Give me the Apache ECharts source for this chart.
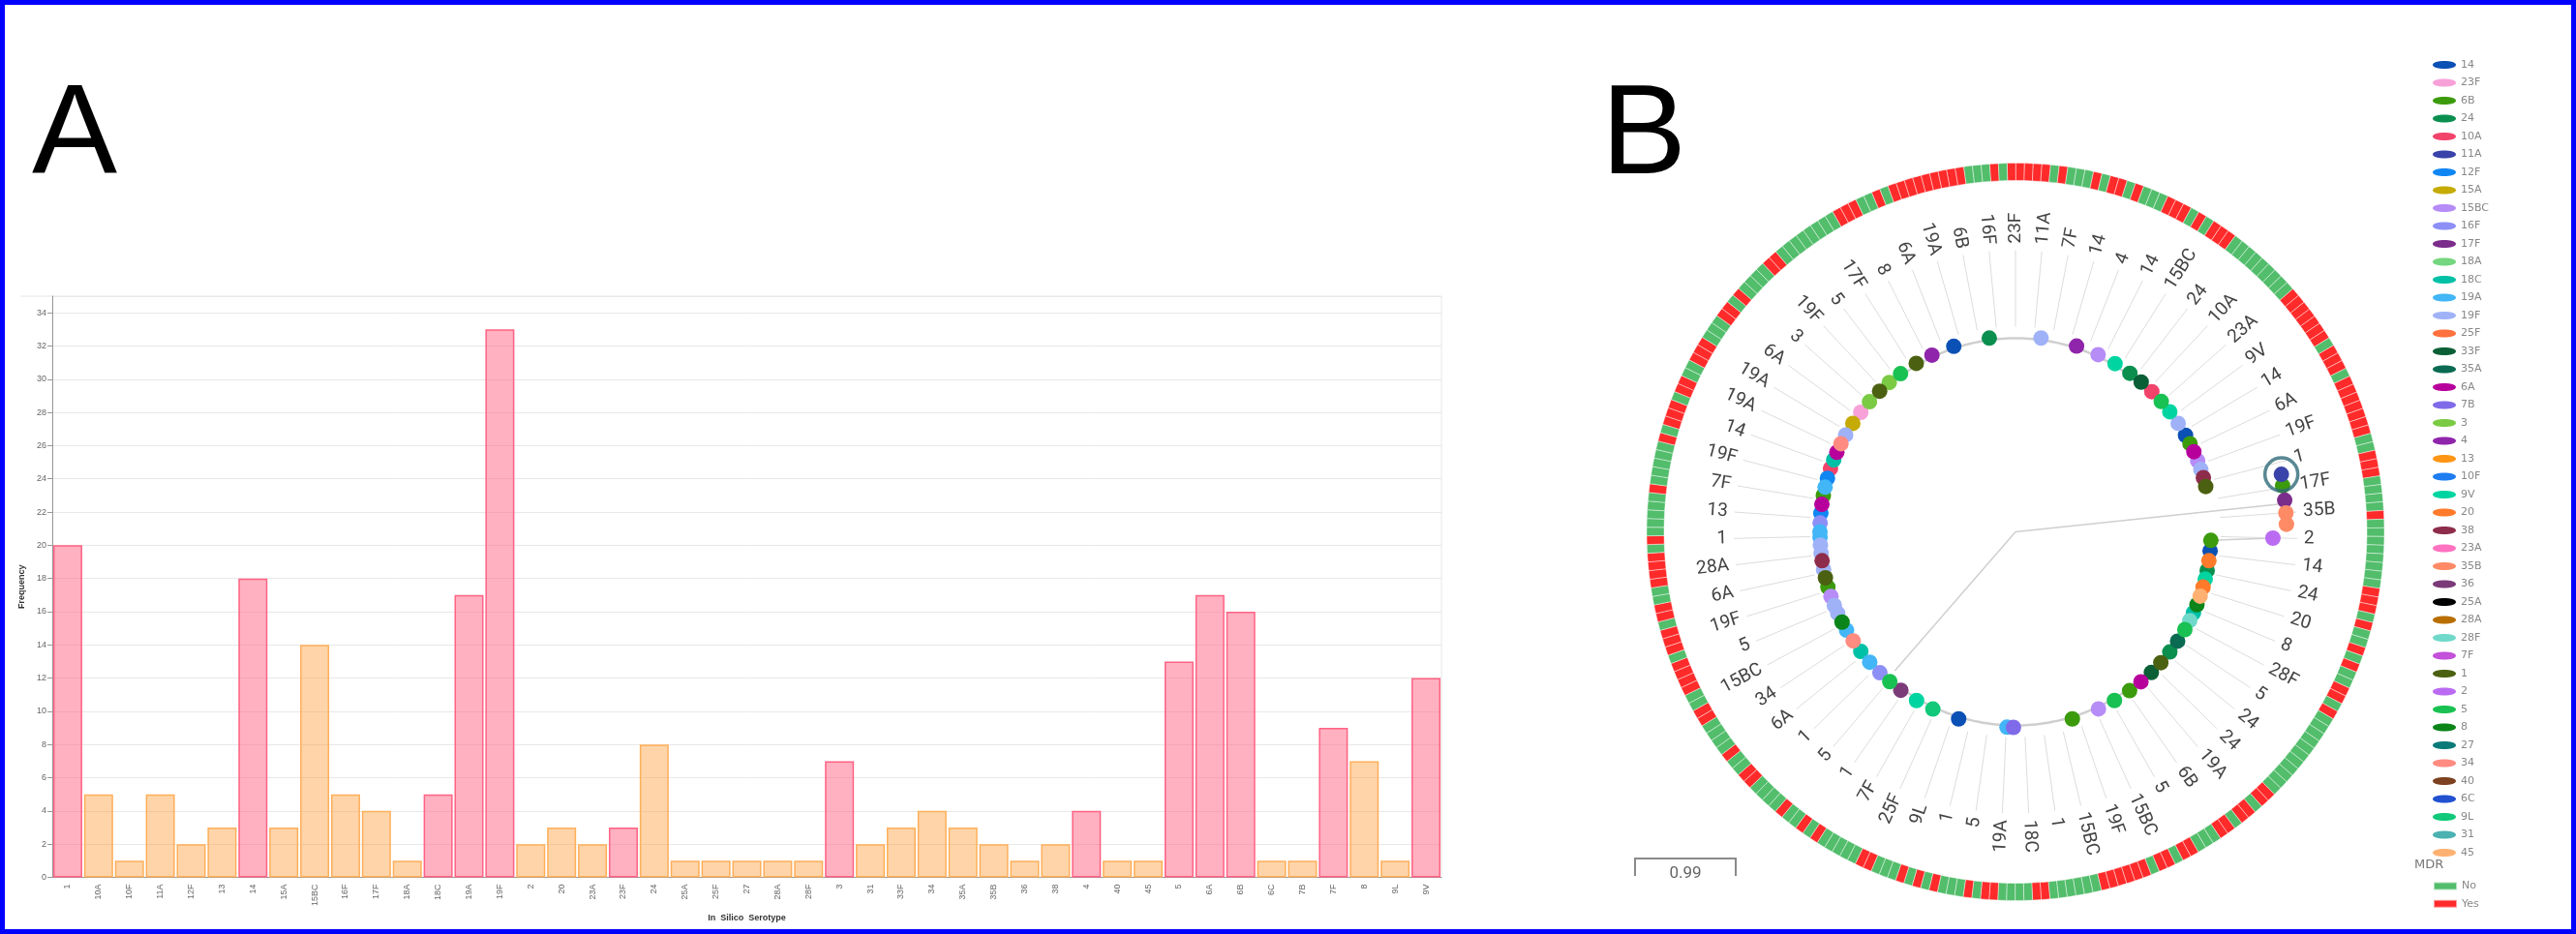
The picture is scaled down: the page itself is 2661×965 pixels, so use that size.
<!DOCTYPE html>
<html>
<head>
<meta charset="utf-8">
<script src="https://cdn.jsdelivr.net/npm/echarts@6/dist/echarts.min.js"></script>
<style>
  html, body { margin: 0; padding: 0; background: #fff; }
  #main { width: 2661px; height: 965px; }
</style>
</head>
<body>
<div id="main"></div>
<script>
// ---- panel A : isolates per in silico serotype ----
const serotypes = ['1','10A','10F','11A','12F','13','14','15A','15BC','16F','17F','18A','18C','19A','19F','2','20','23A','23F','24','25A','25F','27','28A','28F','3','31','33F','34','35A','35B','36','38','4','40','45','5','6A','6B','6C','7B','7F','8','9L','9V'];
const frequency = [20,5,1,5,2,3,18,3,14,5,4,1,5,17,33,2,3,2,3,8,1,1,1,1,1,7,2,3,4,3,2,1,2,4,1,1,13,17,16,1,1,9,7,1,12];
const pcv13 = ['1','3','4','5','6A','6B','7F','9V','14','18C','19A','19F','23F'];
const yTicks = { min: 0, max: 35, interval: 2 };

// ---- panel B : circular tree ----
// tips on the main circle: [angle clockwise from top, serotype]
const tips = [
  [7.5,'19F'],[18.2,'4'],[25,'15BC'],[30.6,'9V'],[35.8,'24'],[40,'33F'],[44.2,'10A'],[48.2,'5'],[52.1,'9V'],
  [56.3,'19F'],[60.4,'14'],[63.2,'6B'],[65.8,'6A'],[68.7,'15BC'],[71.4,'19F'],[73.9,'38'],[76.6,'1'],
  [92.5,'6B'],[95.6,'14'],[98.5,'20'],[101.4,'24'],[104,'9V'],[106.4,'20'],[109.2,'45'],[111.9,'8'],
  [114.5,'18C'],[117,'28F'],[120,'5'],[124,'35A'],[127.9,'24'],[132,'1'],[136,'33F'],[140.1,'6A'],
  [144.3,'6B'],[149.6,'5'],[154.9,'15BC'],[163.1,'6B'],[182.5,'19A'],[180.6,'7B'],[196.9,'14'],[205,'9L'],
  [210.4,'9V'],[215.9,'36'],[220,'5'],[223.9,'16F'],[228.2,'19A'],[232.3,'18C'],[236.1,'34'],[239.8,'19A'],
  [242.5,'8'],[245.4,'19F'],[247.9,'19F'],[250.7,'15BC'],[253.6,'6B'],[256.4,'1'],[258.9,'19F'],[261.5,'38'],
  [263.7,'19F'],[266.1,'19F'],[268.4,'19A'],[270,'19A'],[272.6,'16F'],[275.5,'12F'],[278.1,'6A'],[280.7,'6B'],
  [283.2,'19A'],[285.9,'12F'],[288.9,'10A'],[291.6,'18C'],[294,'6A'],[296.8,'34'],[299.7,'19F'],[303.7,'15A'],
  [307.7,'23F'],[311.7,'3'],[316,'1'],[319.8,'3'],[324,'5'],[329.5,'1'],[334.7,'4'],[341.6,'14'],[352.3,'24']
];
// tips on long branches: [angle, serotype, distance]
const farTips = [[77.8,'11A',281],[80.2,'6B',280],[83.3,'17F',280],[86,'35B',280],[88.4,'35B',280],[91.4,'2',266]];
const highlighted = [[281, 77.8]];
// tree branches
const treeArcs = [[200, -8, 77], [200, 92, 352]];
const treeLines = [[0, 0, 190, 221], [0, 0, 273, 84], [200, 92.5, 266, 91.4]];
// tip labels, evenly spread clockwise from the top
const tipLabels = ['23F','11A','7F','14','4','14','15BC','24','10A','23A','9V','14','6A','19F','1','17F','35B','2',
  '14','24','20','8','28F','5','24','24','19A','6B','5','15BC','19F','15BC','1','18C','19A','5','1','9L','25F',
  '7F','1','5','1','6A','34','15BC','5','19F','6A','28A','1','13','7F','19F','14','19A','19A','6A','3','19F',
  '5','17F','8','6A','19A','6B','16F'];
// MDR ring, runs clockwise starting just left of the top
const mdrRuns = [
  ['Y',5],['N',1],['Y',1],['N',3],['Y',1],['N',1],['Y',2],['N',1],['Y',1],['N',3],
  ['Y',3],['N',1],['Y',1],['N',1],['Y',3],['N',9],['Y',7],['N',1],['Y',3],['N',1],
  ['Y',7],['N',2],['Y',3],['N',4],['Y',1],['N',8],['Y',3],['N',1],['Y',1],['N',2],
  ['Y',1],['N',1],['Y',1],['N',2],['Y',2],['N',1],['Y',1],['N',11],['Y',2],['N',1],
  ['Y',2],['N',1],['Y',2],['N',3],['Y',2],['N',1],['Y',2],['N',1],['Y',6],['N',6],
  ['Y',2],['N',4],['Y',2],['N',1],['Y',1],['N',3],['Y',1],['N',1],['Y',1],['N',1],
  ['Y',1],['N',3],['Y',2],['N',5],['Y',1],['N',1],['Y',1],['N',2],['Y',1],['N',4],
  ['Y',2],['N',2],['Y',1],['N',4],['Y',2],['N',2],['Y',4],['N',1],['Y',3],['N',1],
  ['Y',2],['N',2],['Y',4],['N',1],['Y',1],['N',5],['Y',1],['N',5],['Y',1],['N',1],
  ['Y',3],['N',1],['Y',2],['N',2],['Y',3],['N',3],['Y',2],['N',1],['Y',1],['N',4],
  ['Y',2],['N',8],['Y',3],['N',2],['Y',1],['N',1],['Y',9],['N',3],['Y',1],['N',1]
];
const legendOrder = ['14','23F','6B','24','10A','11A','12F','15A','15BC','16F','17F','18A','18C','19A','19F','25F',
  '33F','35A','6A','7B','3','4','13','10F','9V','20','38','23A','35B','36','25A','28A','28F','7F','1','2','5','8',
  '27','34','40','6C','9L','31','45'];

const serotypeColors = {
  '14':'#0b50b4','23F':'#f7a1d8','6B':'#3b9b0c','24':'#0b8f4f','10A':'#f2436b','11A':'#3a43a9','12F':'#0f86f2',
  '15A':'#c5ab04','15BC':'#b68cf7','16F':'#8d8ff6','17F':'#7b2d8b','18A':'#74d67e','18C':'#00c0a6','19A':'#42b6f6',
  '19F':'#a0b2f7','25F':'#ff713d','33F':'#0a5f36','35A':'#0b6a52','6A':'#b7009b','7B':'#7f6be9','3':'#7bca44',
  '4':'#8f25ab','13':'#ff9515','10F':'#1f7df1','9V':'#00d5a1','20':'#ff7b2b','38':'#8e2d4b','23A':'#ff72c1',
  '35B':'#ff8b66','36':'#7b3b79','25A':'#000000','28A':'#b96f00','28F':'#70d9c9','7F':'#c351d9','1':'#4b6111',
  '2':'#ba6bf2','5':'#19c152','8':'#0b8519','27':'#0b7b79','34':'#ff8b81','40':'#7b4121','6C':'#2151d1',
  '9L':'#11c979','31':'#4bb1b1','45':'#ffb171'
};
const mdrColors = { N: '#52bd6b', Y: '#ff2a2a' };
const mdrNames = { N: 'No', Y: 'Yes' };

const tipR = 202;
const ellipseIcon = 'path://M0,5 C0,-1.67 30,-1.67 30,5 C30,11.67 0,11.67 0,5 Z';

let chart = echarts.init(document.getElementById('main'));

let barData = frequency.map((v, i) => {
  let red = pcv13.indexOf(serotypes[i]) >= 0;
  return {
    value: v,
    itemStyle: red
      ? { color: 'rgba(255,99,132,0.5)', borderColor: 'rgb(255,99,132)', borderWidth: 1.5 }
      : { color: 'rgba(255,159,64,0.45)', borderColor: 'rgb(255,175,90)', borderWidth: 1.5 }
  };
});

let ringData = [];
mdrRuns.forEach(run => {
  for (let k = 0; k < run[1]; k++) {
    ringData.push({ name: mdrNames[run[0]], value: 1, itemStyle: { color: mdrColors[run[0]] } });
  }
});

let tipSeries = legendOrder.map(s => ({
  type: 'scatter',
  name: s,
  coordinateSystem: 'polar',
  symbolSize: 16,
  silent: true,
  z: 5,
  itemStyle: { color: serotypeColors[s], opacity: 1 },
  data: tips.filter(t => t[1] === s).map(t => [tipR, t[0]])
    .concat(farTips.filter(t => t[1] === s).map(t => [t[2], t[0]]))
}));

let legendText = { fontFamily: 'DejaVu Sans', fontSize: 11, color: '#888', lineHeight: 12 };

let option = {
  animation: false,
  graphic: [
    { type: 'rect', shape: { x: 2.5, y: 2.5, width: 2656, height: 960 }, style: { fill: 'none', stroke: '#0000ff', lineWidth: 5 }, z: 100 },
    { type: 'text', x: 33, y: 143, style: { text: 'A', font: '132px "Liberation Sans"', fill: '#000', verticalAlign: 'middle' } },
    { type: 'text', x: 1654, y: 143, style: { text: 'B', font: '132px "Liberation Sans"', fill: '#000', verticalAlign: 'middle' } },
    { type: 'line', shape: { x1: 21, y1: 306, x2: 54, y2: 306 }, style: { stroke: '#e6e6e6', lineWidth: 1 } },
    // scale bar
    { type: 'polyline', shape: { points: [[1689, 905], [1689, 887], [1793, 887], [1793, 905]] }, style: { stroke: '#8a8a8a', lineWidth: 2, fill: 'none' } },
    { type: 'text', x: 1741, y: 903, style: { text: '0.99', font: '17px Roboto', fill: '#666', align: 'center', verticalAlign: 'middle' } },
    { type: 'text', x: 2494, y: 894, style: { text: 'MDR', font: '13px "DejaVu Sans"', fill: '#777', verticalAlign: 'middle' } }
  ],
  legend: [
    {
      data: legendOrder,
      orient: 'vertical',
      left: 2508,
      top: 56,
      icon: ellipseIcon,
      itemWidth: 24,
      itemHeight: 8,
      itemGap: 6.5,
      selectedMode: false,
      textStyle: legendText
    },
    {
      data: ['No', 'Yes'],
      orient: 'vertical',
      left: 2508,
      top: 904.5,
      icon: 'rect',
      itemWidth: 24,
      itemHeight: 8,
      itemGap: 6.3,
      selectedMode: false,
      textStyle: legendText
    }
  ],
  grid: { left: 54, top: 306, width: 1435, height: 600.5, show: true, borderColor: '#e6e6e6', borderWidth: 1 },
  xAxis: {
    type: 'category',
    data: serotypes,
    name: 'In  Silico  Serotype',
    nameLocation: 'middle',
    nameGap: 38,
    nameTextStyle: { fontFamily: 'Liberation Sans', fontSize: 9, fontWeight: 'bold', color: '#333' },
    axisLine: { lineStyle: { color: '#999' } },
    axisTick: { alignWithLabel: true, length: 5, lineStyle: { color: '#999' } },
    axisLabel: { rotate: 90, interval: 0, fontFamily: 'Liberation Sans', fontSize: 9, color: '#666', margin: 7 },
    splitLine: { show: false }
  },
  yAxis: {
    type: 'value',
    min: yTicks.min,
    max: yTicks.max,
    interval: yTicks.interval,
    name: 'Frequency',
    nameLocation: 'middle',
    nameGap: 25,
    nameTextStyle: { fontFamily: 'Liberation Sans', fontSize: 9, fontWeight: 'bold', color: '#333' },
    axisLine: { show: true, lineStyle: { color: '#999' } },
    axisTick: { show: true, length: 5, lineStyle: { color: '#999' } },
    axisLabel: { fontFamily: 'Liberation Sans', fontSize: 9, color: '#666', margin: 6, showMaxLabel: false },
    splitLine: { lineStyle: { color: '#e8e8e8' } }
  },
  polar: { center: [2082, 549.5], radius: 381 },
  angleAxis: { type: 'value', min: 0, max: 360, startAngle: 90, clockwise: true, show: false },
  radiusAxis: { type: 'value', min: 0, max: 381, show: false },
  series: [
    {
      type: 'bar',
      name: 'Frequency',
      data: barData,
      barCategoryGap: '6%'
    },
    {
      type: 'pie',
      name: 'MDR',
      center: [2082, 549.5],
      radius: [363, 381],
      startAngle: 91.3,
      clockwise: true,
      silent: true,
      label: { show: false },
      labelLine: { show: false },
      emphasis: { disabled: true },
      itemStyle: { borderColor: 'rgba(255,255,255,0.55)', borderWidth: 0.8 },
      data: ringData
    },
    {
      // tree branches
      type: 'custom',
      name: 'tree',
      coordinateSystem: 'polar',
      silent: true,
      z: 2,
      data: treeArcs.map(a => [a[0], a[1]]).concat(treeLines.map(l => [l[2], l[3]])),
      renderItem: function (params, api) {
        let i = params.dataIndex;
        if (i < treeArcs.length) {
          let arc = treeArcs[i];
          let pts = [];
          for (let a = arc[1]; a <= arc[2]; a += 1) {
            pts.push(api.coord([arc[0], (a + 360) % 360]));
          }
          return { type: 'polyline', shape: { points: pts }, style: { stroke: '#cfcfcf', lineWidth: 2.5, fill: 'none' } };
        }
        let l = treeLines[i - treeArcs.length];
        let p0 = api.coord([l[0], l[1]]);
        let p1 = api.coord([l[2], l[3]]);
        return { type: 'line', shape: { x1: p0[0], y1: p0[1], x2: p1[0], y2: p1[1] }, style: { stroke: '#cfcfcf', lineWidth: 1.5 } };
      }
    },
    {
      // tip labels with leader lines
      type: 'custom',
      name: 'labels',
      coordinateSystem: 'polar',
      silent: true,
      z: 3,
      data: tipLabels.map((s, i) => [298, i * 360 / tipLabels.length]),
      renderItem: function (params, api) {
        let i = params.dataIndex;
        let a = i * 360 / tipLabels.length;
        let p0 = api.coord([212, a]);
        let p1 = api.coord([291, a]);
        let pt = api.coord([298, a]);
        let right = a < 180;
        let rot = ((right ? 90 : 270) - a) * Math.PI / 180;
        return {
          type: 'group',
          children: [
            { type: 'line', shape: { x1: p0[0], y1: p0[1], x2: p1[0], y2: p1[1] }, style: { stroke: '#dcdcdc', lineWidth: 1 } },
            {
              type: 'text', x: pt[0], y: pt[1], rotation: rot,
              style: { text: tipLabels[i], font: '19px Roboto', fill: '#444', align: right ? 'left' : 'right', verticalAlign: 'middle' }
            }
          ]
        };
      }
    },
    {
      type: 'scatter',
      name: 'selected',
      coordinateSystem: 'polar',
      symbolSize: 34,
      silent: true,
      z: 6,
      itemStyle: { color: 'rgba(0,0,0,0)', borderColor: '#2e6a78', borderWidth: 3.5 },
      data: highlighted
    }
  ].concat(tipSeries)
};

chart.setOption(option);
</script>
</body>
</html>
